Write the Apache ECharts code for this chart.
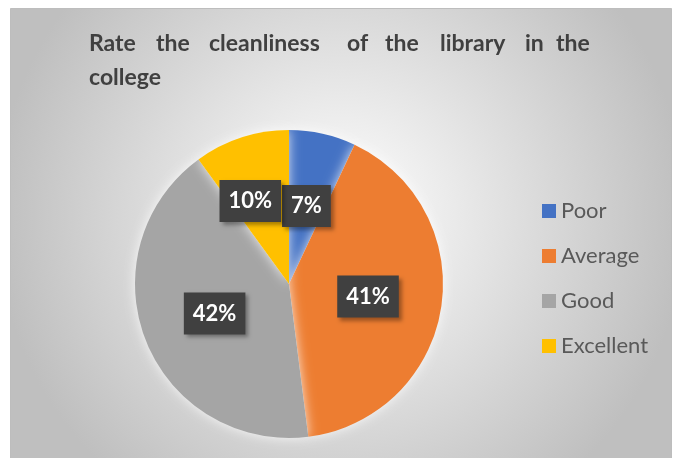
<!DOCTYPE html>
<html>
<head>
<meta charset="utf-8">
<script src="https://cdn.jsdelivr.net/npm/echarts@6/dist/echarts.min.js"></script>
<style>html,body{margin:0;padding:0;background:#fff}#c{width:678px;height:458px}</style>
</head>
<body>
<div id="c"></div>
<script>
const categories = ['Poor', 'Average', 'Good', 'Excellent'];
const values = [7, 41, 42, 10];
const colors = ['#4472C4', '#ED7D31', '#A5A5A5', '#FFC000'];
const titleLine1 = ['Rate', 'the', 'cleanliness', 'of', 'the', 'library', 'in', 'the'];
const titleLine2 = 'college';

const chart = echarts.init(document.getElementById('c'));
const wordX = [89, 156, 209, 347, 385, 440, 525, 556];
const labelOffsets = [[0, 0], [0, 0], [0, 0], [-14, -7]];
const font = 'Lato, "Open Sans", sans-serif';
const titleEls = titleLine1.map((w, i) => ({
  type: 'text', left: wordX[i], top: 32, z: 10,
  style: { text: w, fill: '#404040', font: 'bold 23px ' + font }
}));
titleEls.push({ type: 'text', left: 89, top: 66, z: 10,
  style: { text: titleLine2, fill: '#404040', font: 'bold 23px ' + font } });

chart.setOption({
  backgroundColor: '#ffffff',
  animation: false,
  color: colors,
  graphic: [
    { type: 'rect', z: -10, silent: true,
      shape: { x: 10.5, y: 8.5, width: 661, height: 460 },
      style: {
        fill: { type: 'radial', x: 0.5, y: 0.45, r: 0.75,
          colorStops: [{ offset: 0, color: '#ffffff' }, { offset: 1, color: '#bfbfbf' }] },
        stroke: '#bdbdbd', lineWidth: 1
      }
    }
  ].concat(titleEls),
  legend: {
    orient: 'vertical', left: 537, top: 195, itemGap: 23,
    itemWidth: 14, itemHeight: 14, icon: 'rect',
    data: categories,
    textStyle: { color: '#595959', fontSize: 22, fontFamily: font }
  },
  series: [{
    type: 'pie',
    center: [289, 284], radius: 154,
    startAngle: 90, clockwise: true,
    avoidLabelOverlap: false,
    data: categories.map((c, i) => ({ name: c, value: values[i], label: { offset: labelOffsets[i] } })),
    itemStyle: { shadowBlur: 12, shadowColor: 'rgba(255,255,255,0.8)' },
    label: {
      position: 'inside',
      formatter: p => p.value + '%',
      color: '#ffffff', fontSize: 22, lineHeight: 22, fontWeight: 'bold', fontFamily: font,
      backgroundColor: '#404040', padding: [10, 9, 10, 9],
      shadowBlur: 4, shadowOffsetX: 3, shadowOffsetY: 3, shadowColor: 'rgba(0,0,0,0.35)'
    },
    labelLayout: { hideOverlap: false },
    labelLine: { show: false },
    emphasis: { disabled: true }
  }]
});
</script>
</body>
</html>
